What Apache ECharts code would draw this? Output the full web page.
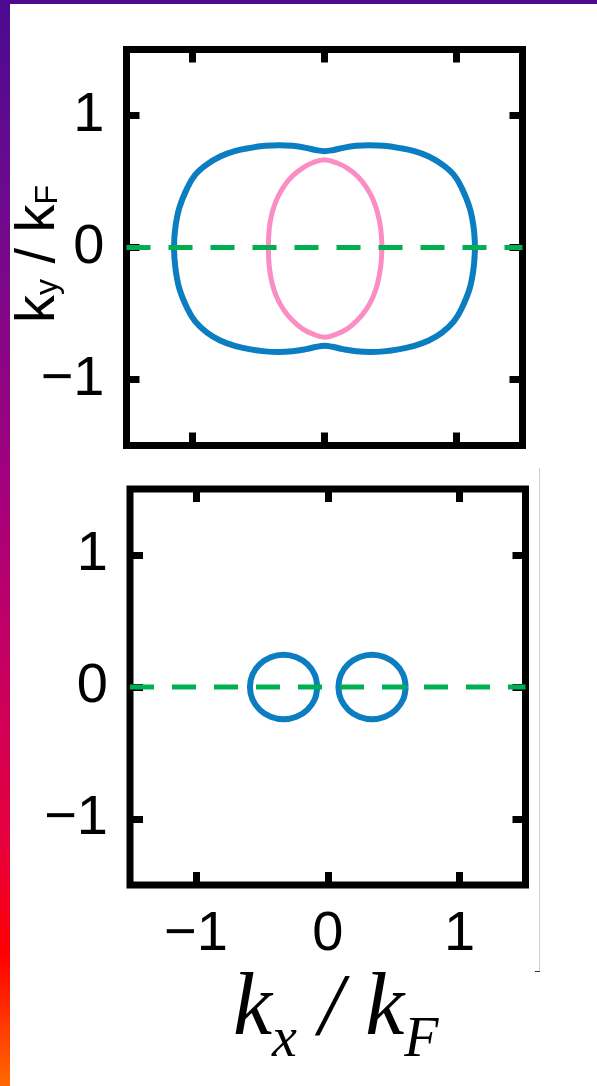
<!DOCTYPE html>
<html>
<head>
<meta charset="utf-8">
<script src="https://cdn.jsdelivr.net/npm/echarts@6/dist/echarts.min.js"></script>
<style>
  html, body { margin: 0; padding: 0; background: #fff; }
  #chart { width: 597px; height: 1086px; }
</style>
</head>
<body>
<div id="chart"></div>
<script>
// Axis ticks shared by both panels (k / k_F units)
const tickValues = [-1, 0, 1];
const tickLabels = ['\u22121', '0', '1'];
const axisMin = -1.5;
const axisMax = 1.5;

// Upper panel: outer Fermi contour (blue), traced counter-clockwise from +k_x
const outerBand = [
  [1.14, 0], [1.13, 0.15], [1.10, 0.30], [1.04, 0.45], [0.98, 0.55],
  [0.89, 0.63], [0.79, 0.69], [0.68, 0.73], [0.56, 0.755], [0.45, 0.77],
  [0.34, 0.775], [0.24, 0.77], [0.14, 0.755], [0.06, 0.737], [0, 0.73],
  [-0.06, 0.737], [-0.14, 0.755], [-0.24, 0.77], [-0.34, 0.775], [-0.45, 0.77],
  [-0.56, 0.755], [-0.68, 0.73], [-0.79, 0.69], [-0.89, 0.63], [-0.98, 0.55],
  [-1.04, 0.45], [-1.10, 0.30], [-1.13, 0.15], [-1.14, 0],
  [-1.13, -0.15], [-1.10, -0.31], [-1.04, -0.46], [-0.98, -0.56], [-0.89, -0.645],
  [-0.79, -0.705], [-0.68, -0.745], [-0.56, -0.772], [-0.45, -0.787], [-0.35, -0.792],
  [-0.24, -0.786], [-0.14, -0.77], [-0.06, -0.752], [0, -0.745], [0.06, -0.752],
  [0.14, -0.77], [0.24, -0.786], [0.35, -0.792], [0.45, -0.787], [0.56, -0.772],
  [0.68, -0.745], [0.79, -0.705], [0.89, -0.645], [0.98, -0.56], [1.04, -0.46],
  [1.10, -0.31], [1.13, -0.15], [1.14, 0]
];

// Upper panel: inner lens-shaped contour (pink)
const innerBand = [
  [0.435, 0], [0.425, 0.15], [0.40, 0.27], [0.365, 0.37], [0.315, 0.46],
  [0.25, 0.54], [0.175, 0.60], [0.095, 0.64], [0, 0.665],
  [-0.095, 0.64], [-0.17, 0.60], [-0.245, 0.54], [-0.31, 0.46],
  [-0.36, 0.37], [-0.395, 0.27], [-0.418, 0.15], [-0.425, 0],
  [-0.418, -0.15], [-0.395, -0.28], [-0.36, -0.38], [-0.31, -0.47], [-0.245, -0.55],
  [-0.17, -0.615], [-0.09, -0.655], [0, -0.68], [0.095, -0.655], [0.175, -0.615],
  [0.25, -0.55], [0.315, -0.47], [0.365, -0.38], [0.40, -0.28], [0.425, -0.15],
  [0.435, 0]
];

// Lower panel: two small pockets
const leftPocket = [
  [-0.08, 0], [-0.099, 0.094], [-0.155, 0.173], [-0.237, 0.226], [-0.335, 0.245],
  [-0.433, 0.226], [-0.515, 0.173], [-0.571, 0.094], [-0.59, 0],
  [-0.571, -0.094], [-0.515, -0.173], [-0.433, -0.226], [-0.335, -0.245],
  [-0.237, -0.226], [-0.155, -0.173], [-0.099, -0.094], [-0.08, 0]
];
const rightPocket = [
  [0.591, 0], [0.572, 0.094], [0.516, 0.173], [0.434, 0.226], [0.336, 0.245],
  [0.238, 0.226], [0.156, 0.173], [0.1, 0.094], [0.081, 0],
  [0.1, -0.094], [0.156, -0.173], [0.238, -0.226], [0.336, -0.245],
  [0.434, -0.226], [0.516, -0.173], [0.572, -0.094], [0.591, 0]
];

// Dashed cut along k_y = 0
const cutLine = [[-1.5, 0], [1.5, 0]];

const BLUE = '#0b7dc1';
const PINK = '#fc8dc3';
const GREEN = '#00b050';
const SANS = 'Liberation Sans, Arial, Helvetica, sans-serif';
const SERIF = 'Liberation Serif, Times New Roman, serif';

const chart = echarts.init(document.getElementById('chart'), null, { renderer: 'canvas' });

function tickSetup() {
  return { show: true, inside: true, length: 13, customValues: tickValues,
           lineStyle: { color: '#000', width: 7 } };
}
function labelSetup(show) {
  return {
    show: show, customValues: tickValues, margin: show ? 22 : 8,
    fontSize: 56, fontFamily: SANS, color: '#000',
    formatter: function (v) {
      const i = tickValues.indexOf(Math.round(v));
      return i >= 0 ? tickLabels[i] : '';
    }
  };
}
function makeAxis(gridIndex, position, showLabels, extra) {
  return Object.assign({
    type: 'value', gridIndex: gridIndex, position: position,
    min: axisMin, max: axisMax, interval: 0.5,
    axisLine: { show: false, onZero: false }, splitLine: { show: false },
    axisTick: tickSetup(), axisLabel: labelSetup(showLabels),
    nameMoveOverlap: false
  }, extra || {});
}

const yName = {
  name: '{k|k}{s|y}{k| / k}{s|F}',
  nameLocation: 'middle', nameRotate: 90, nameGap: 60,
  nameTextStyle: {
    color: '#000', fontFamily: SANS, fontSize: 56, padding: [0, 13, 0, 0],
    rich: {
      k: { fontFamily: SANS, fontSize: 56, lineHeight: 56, verticalAlign: 'top', color: '#000' },
      s: { fontFamily: SANS, fontSize: 32, lineHeight: 32, verticalAlign: 'top',
           padding: [22, 0, 0, 0], color: '#000' }
    }
  }
};
const xName = {
  name: '{k|k}{s|x}{k| / k}{s|F}',
  nameLocation: 'middle', nameGap: 82,
  nameTextStyle: {
    color: '#000', fontFamily: SERIF, fontStyle: 'italic', fontSize: 88, padding: [0, 0, 0, 16],
    rich: {
      k: { fontFamily: SERIF, fontStyle: 'italic', fontSize: 88, lineHeight: 88,
           verticalAlign: 'top', color: '#000' },
      s: { fontFamily: SERIF, fontStyle: 'italic', fontSize: 56, lineHeight: 56,
           verticalAlign: 'top', padding: [46, 0, 0, 0], color: '#000' }
    }
  }
};

function contour(data, x, y, color, width, smooth) {
  return {
    type: 'line', xAxisIndex: x, yAxisIndex: y, data: data,
    showSymbol: false, smooth: smooth, z: 2, silent: true,
    lineStyle: { color: color, width: width }
  };
}
function cut(x, y) {
  return {
    type: 'line', xAxisIndex: x, yAxisIndex: y, data: cutLine,
    showSymbol: false, z: 5, silent: true, clip: false,
    lineStyle: { color: GREEN, width: 5, type: [24, 18] }
  };
}

const option = {
  backgroundColor: '#fff',
  animation: false,
  grid: [
    { left: 126.5, top: 49.5, width: 396, height: 396, show: true,
      borderColor: '#000', borderWidth: 7, backgroundColor: 'transparent',
      containLabel: false, outerBoundsMode: 'none' },
    { left: 130, top: 489, width: 395.5, height: 396, show: true,
      borderColor: '#000', borderWidth: 7, backgroundColor: 'transparent',
      containLabel: false, outerBoundsMode: 'none' }
  ],
  xAxis: [
    makeAxis(0, 'bottom', false),
    makeAxis(1, 'bottom', true, xName),
    makeAxis(0, 'top', false),
    makeAxis(1, 'top', false)
  ],
  yAxis: [
    makeAxis(0, 'left', true, yName),
    makeAxis(1, 'left', true),
    makeAxis(0, 'right', false),
    makeAxis(1, 'right', false)
  ],
  series: [
    contour(outerBand, 0, 0, BLUE, 6, 0.4),
    contour(innerBand, 0, 0, PINK, 5, 0.4),
    cut(0, 0),
    contour(leftPocket, 1, 1, BLUE, 6, 0.4),
    contour(rightPocket, 1, 1, BLUE, 6, 0.4),
    cut(1, 1)
  ],
  graphic: [
    { type: 'rect', z: 100, shape: { x: 0, y: 0, width: 10, height: 1086 },
      style: { fill: { type: 'linear', x: 0, y: 0, x2: 0, y2: 1, colorStops: [
        { offset: 0, color: '#4a0a90' }, { offset: 0.18, color: '#6c0a8e' },
        { offset: 0.46, color: '#a6007c' }, { offset: 0.6, color: '#c40064' },
        { offset: 0.78, color: '#e8003c' }, { offset: 0.88, color: '#ff0000' },
        { offset: 1, color: '#ff6a00' } ] } } },
    { type: 'rect', z: 100, shape: { x: 0, y: 0, width: 597, height: 4 },
      style: { fill: '#4f0a90' } },
    { type: 'line', z: 100, shape: { x1: 539.5, y1: 468, x2: 539.5, y2: 971 },
      style: { stroke: '#cfcfcf', lineWidth: 1 } },
    { type: 'line', z: 100, shape: { x1: 535, y1: 971.5, x2: 540, y2: 971.5 },
      style: { stroke: '#333', lineWidth: 1 } }
  ]
};

chart.setOption(option);
</script>
</body>
</html>
